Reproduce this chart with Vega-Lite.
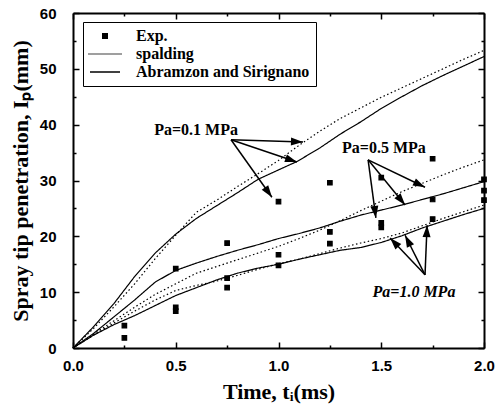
{
  "$schema": "https://vega.github.io/schema/vega-lite/v6.json",
  "width": 411,
  "height": 335,
  "autosize": {"type": "none"},
  "padding": {"left": 73, "top": 13, "right": 18, "bottom": 69},
  "background": "white",
  "config": {
    "view": {"stroke": null},
    "axis": {
      "domainColor": "black", "domainWidth": 2, "tickColor": "black", "tickWidth": 1.5,
      "labelColor": "black", "labelFont": "Liberation Sans", "labelFontWeight": "bold", "labelFontSize": 15,
      "titleColor": "black", "titleFont": "Liberation Serif", "titleFontWeight": "bold", "titleFontSize": 22,
      "grid": false, "labelFlush": false, "labelOverlap": false
    }
  },
  "datasets": {
    "curves": [
      {"p":"0.1","m":"A","t":0,"v":0},{"p":"0.1","m":"A","t":0.1,"v":3.8},{"p":"0.1","m":"A","t":0.2,"v":8.0},{"p":"0.1","m":"A","t":0.3,"v":12.8},{"p":"0.1","m":"A","t":0.4,"v":17.0},{"p":"0.1","m":"A","t":0.5,"v":20.4},{"p":"0.1","m":"A","t":0.6,"v":23.2},{"p":"0.1","m":"A","t":0.7,"v":25.5},{"p":"0.1","m":"A","t":0.8,"v":27.8},{"p":"0.1","m":"A","t":0.9,"v":30.2},{"p":"0.1","m":"A","t":1.0,"v":31.9},{"p":"0.1","m":"A","t":1.09,"v":33.4},{"p":"0.1","m":"A","t":1.2,"v":35.8},{"p":"0.1","m":"A","t":1.3,"v":38.3},{"p":"0.1","m":"A","t":1.4,"v":40.5},{"p":"0.1","m":"A","t":1.5,"v":42.9},{"p":"0.1","m":"A","t":1.6,"v":45.0},{"p":"0.1","m":"A","t":1.7,"v":47.0},{"p":"0.1","m":"A","t":1.8,"v":48.8},{"p":"0.1","m":"A","t":1.9,"v":50.5},{"p":"0.1","m":"A","t":2.0,"v":52.2},
      {"p":"0.1","m":"S","t":0,"v":0},{"p":"0.1","m":"S","t":0.1,"v":3.5},{"p":"0.1","m":"S","t":0.2,"v":7.4},{"p":"0.1","m":"S","t":0.3,"v":11.5},{"p":"0.1","m":"S","t":0.4,"v":16.0},{"p":"0.1","m":"S","t":0.5,"v":20.2},{"p":"0.1","m":"S","t":0.6,"v":24.3},{"p":"0.1","m":"S","t":0.7,"v":26.5},{"p":"0.1","m":"S","t":0.8,"v":28.9},{"p":"0.1","m":"S","t":0.9,"v":31.2},{"p":"0.1","m":"S","t":1.0,"v":33.6},{"p":"0.1","m":"S","t":1.1,"v":36.3},{"p":"0.1","m":"S","t":1.2,"v":38.8},{"p":"0.1","m":"S","t":1.3,"v":41.1},{"p":"0.1","m":"S","t":1.4,"v":43.0},{"p":"0.1","m":"S","t":1.5,"v":44.9},{"p":"0.1","m":"S","t":1.6,"v":46.6},{"p":"0.1","m":"S","t":1.7,"v":48.3},{"p":"0.1","m":"S","t":1.8,"v":50.0},{"p":"0.1","m":"S","t":1.9,"v":51.7},{"p":"0.1","m":"S","t":2.0,"v":53.3},
      {"p":"0.5","m":"A","t":0,"v":0},{"p":"0.5","m":"A","t":0.1,"v":2.6},{"p":"0.5","m":"A","t":0.2,"v":5.6},{"p":"0.5","m":"A","t":0.3,"v":8.6},{"p":"0.5","m":"A","t":0.4,"v":11.8},{"p":"0.5","m":"A","t":0.5,"v":13.9},{"p":"0.5","m":"A","t":0.6,"v":15.2},{"p":"0.5","m":"A","t":0.7,"v":16.4},{"p":"0.5","m":"A","t":0.8,"v":17.5},{"p":"0.5","m":"A","t":0.9,"v":18.5},{"p":"0.5","m":"A","t":1.0,"v":19.6},{"p":"0.5","m":"A","t":1.1,"v":20.5},{"p":"0.5","m":"A","t":1.2,"v":21.5},{"p":"0.5","m":"A","t":1.3,"v":22.7},{"p":"0.5","m":"A","t":1.4,"v":23.8},{"p":"0.5","m":"A","t":1.5,"v":24.7},{"p":"0.5","m":"A","t":1.6,"v":25.6},{"p":"0.5","m":"A","t":1.7,"v":26.6},{"p":"0.5","m":"A","t":1.8,"v":27.6},{"p":"0.5","m":"A","t":1.9,"v":28.7},{"p":"0.5","m":"A","t":2.0,"v":29.8},
      {"p":"0.5","m":"S","t":0,"v":0},{"p":"0.5","m":"S","t":0.1,"v":2.5},{"p":"0.5","m":"S","t":0.2,"v":4.9},{"p":"0.5","m":"S","t":0.3,"v":7.3},{"p":"0.5","m":"S","t":0.4,"v":9.6},{"p":"0.5","m":"S","t":0.5,"v":11.5},{"p":"0.5","m":"S","t":0.6,"v":13.4},{"p":"0.5","m":"S","t":0.7,"v":14.6},{"p":"0.5","m":"S","t":0.8,"v":15.8},{"p":"0.5","m":"S","t":0.9,"v":17.0},{"p":"0.5","m":"S","t":1.0,"v":18.2},{"p":"0.5","m":"S","t":1.1,"v":19.6},{"p":"0.5","m":"S","t":1.2,"v":21.1},{"p":"0.5","m":"S","t":1.3,"v":22.8},{"p":"0.5","m":"S","t":1.4,"v":24.6},{"p":"0.5","m":"S","t":1.5,"v":26.3},{"p":"0.5","m":"S","t":1.6,"v":28.0},{"p":"0.5","m":"S","t":1.7,"v":29.5},{"p":"0.5","m":"S","t":1.8,"v":31.0},{"p":"0.5","m":"S","t":1.9,"v":32.4},{"p":"0.5","m":"S","t":2.0,"v":33.7},
      {"p":"1.0","m":"A","t":0,"v":0},{"p":"1.0","m":"A","t":0.1,"v":2.3},{"p":"1.0","m":"A","t":0.2,"v":4.2},{"p":"1.0","m":"A","t":0.3,"v":5.8},{"p":"1.0","m":"A","t":0.4,"v":7.6},{"p":"1.0","m":"A","t":0.5,"v":9.4},{"p":"1.0","m":"A","t":0.6,"v":10.8},{"p":"1.0","m":"A","t":0.7,"v":12.2},{"p":"1.0","m":"A","t":0.8,"v":13.4},{"p":"1.0","m":"A","t":0.9,"v":14.3},{"p":"1.0","m":"A","t":1.0,"v":15.0},{"p":"1.0","m":"A","t":1.1,"v":15.9},{"p":"1.0","m":"A","t":1.2,"v":16.7},{"p":"1.0","m":"A","t":1.3,"v":17.5},{"p":"1.0","m":"A","t":1.4,"v":18.0},{"p":"1.0","m":"A","t":1.5,"v":18.9},{"p":"1.0","m":"A","t":1.6,"v":20.1},{"p":"1.0","m":"A","t":1.7,"v":21.5},{"p":"1.0","m":"A","t":1.8,"v":22.7},{"p":"1.0","m":"A","t":1.9,"v":23.9},{"p":"1.0","m":"A","t":2.0,"v":25.0},
      {"p":"1.0","m":"S","t":0,"v":0},{"p":"1.0","m":"S","t":0.1,"v":2.3},{"p":"1.0","m":"S","t":0.2,"v":4.5},{"p":"1.0","m":"S","t":0.3,"v":6.6},{"p":"1.0","m":"S","t":0.4,"v":8.6},{"p":"1.0","m":"S","t":0.5,"v":10.3},{"p":"1.0","m":"S","t":0.6,"v":11.2},{"p":"1.0","m":"S","t":0.7,"v":12.0},{"p":"1.0","m":"S","t":0.8,"v":13.0},{"p":"1.0","m":"S","t":0.9,"v":14.1},{"p":"1.0","m":"S","t":1.0,"v":15.1},{"p":"1.0","m":"S","t":1.1,"v":15.9},{"p":"1.0","m":"S","t":1.2,"v":16.9},{"p":"1.0","m":"S","t":1.3,"v":17.9},{"p":"1.0","m":"S","t":1.4,"v":18.8},{"p":"1.0","m":"S","t":1.5,"v":19.6},{"p":"1.0","m":"S","t":1.6,"v":20.6},{"p":"1.0","m":"S","t":1.7,"v":21.9},{"p":"1.0","m":"S","t":1.8,"v":23.2},{"p":"1.0","m":"S","t":1.9,"v":24.4},{"p":"1.0","m":"S","t":2.0,"v":25.6}
    ],
    "exp": [
      {"t":0.25,"v":4.0},{"t":0.25,"v":1.8},
      {"t":0.5,"v":14.2},{"t":0.5,"v":7.3},{"t":0.5,"v":6.6},
      {"t":0.75,"v":18.8},{"t":0.75,"v":12.5},{"t":0.75,"v":10.8},
      {"t":1.0,"v":26.2},{"t":1.0,"v":16.7},{"t":1.0,"v":14.8},
      {"t":1.25,"v":29.6},{"t":1.25,"v":20.8},{"t":1.25,"v":18.7},
      {"t":1.5,"v":30.5},{"t":1.5,"v":22.4},{"t":1.5,"v":21.6},
      {"t":1.75,"v":33.9},{"t":1.75,"v":26.6},{"t":1.75,"v":23.1},
      {"t":2.0,"v":30.2},{"t":2.0,"v":28.2},{"t":2.0,"v":26.5}
    ],
    "arrows": [
      {"t0":0.769,"v0":37.3,"t1":1.119,"v1":36.9},
      {"t0":0.769,"v0":37.3,"t1":1.090,"v1":33.3},
      {"t0":0.769,"v0":37.3,"t1":0.968,"v1":27.0},
      {"t0":1.436,"v0":33.7,"t1":1.713,"v1":28.8},
      {"t0":1.436,"v0":33.7,"t1":1.616,"v1":25.6},
      {"t0":1.436,"v0":33.7,"t1":1.474,"v1":23.3},
      {"t0":1.713,"v0":13.1,"t1":1.543,"v1":19.7},
      {"t0":1.713,"v0":13.1,"t1":1.616,"v1":20.2},
      {"t0":1.713,"v0":13.1,"t1":1.723,"v1":22.0}
    ],
    "notes": [
      {"label":"Pa=0.1 MPa","t":0.599,"v":39.0},
      {"label":"Pa=0.5 MPa","t":1.513,"v":35.8},
      {"label":"Pa=1.0 MPa","t":1.659,"v":10.0}
    ]
  },
  "layer": [
    {
      "data": {"name": "curves"},
      "mark": {"type": "line", "color": "black", "strokeWidth": 1.2},
      "encoding": {
        "x": {"field": "t", "type": "quantitative", "scale": {"domain": [0, 2], "nice": false},
          "axis": {"orient": "bottom", "title": "Time, tᵢ(ms)", "values": [0,0.25,0.5,0.75,1,1.25,1.5,1.75,2],
            "labelExpr": "datum.value % 0.5 === 0 ? format(datum.value, '.1f') : ''",
            "tickSize": {"condition": {"test": "datum.value % 0.5 === 0", "value": -6}, "value": -3},
            "labelPadding": 16, "titlePadding": 5}},
        "y": {"field": "v", "type": "quantitative", "scale": {"domain": [0, 60], "nice": false},
          "axis": {"orient": "left", "title": "Spray tip penetration, Iₚ(mm)", "values": [0,5,10,15,20,25,30,35,40,45,50,55,60],
            "labelExpr": "datum.value % 10 === 0 ? format(datum.value, 'd') : ''",
            "tickSize": {"condition": {"test": "datum.value % 10 === 0", "value": -6}, "value": -3},
            "labelPadding": 23, "titlePadding": 7}},
        "detail": {"field": "p"},
        "strokeDash": {"field": "m", "type": "nominal", "scale": {"domain": ["S", "A"], "range": [[1.5, 2.5], [1, 0]]}, "legend": null}
      }
    },
    {
      "data": {"name": "exp"},
      "mark": {"type": "point", "filled": true, "color": "black", "stroke": "black", "strokeWidth": 1.2, "size": 100, "opacity": 1},
      "encoding": {
        "x": {"field": "t", "type": "quantitative", "scale": {"domain": [0, 2], "nice": false},
          "axis": {"orient": "top", "labels": false, "title": null, "values": [0,0.25,0.5,0.75,1,1.25,1.5,1.75,2],
            "tickSize": {"condition": {"test": "datum.value % 0.5 === 0", "value": -6}, "value": -3}}},
        "y": {"field": "v", "type": "quantitative", "scale": {"domain": [0, 60], "nice": false},
          "axis": {"orient": "right", "labels": false, "title": null, "values": [0,5,10,15,20,25,30,35,40,45,50,55,60],
            "tickSize": {"condition": {"test": "datum.value % 10 === 0", "value": -6}, "value": -3}}},
        "shape": {"datum": "Exp.",
          "scale": {"domain": ["Exp.", "spalding", "Abramzon and Sirignano"],
            "range": ["M-0.45,-0.45H0.45V0.45H-0.45Z",
              "M-3.3,0h0.2M-2.9,0h0.2M-2.5,0h0.2M-2.1,0h0.2M-1.7,0h0.2M-1.3,0h0.2M-0.9,0h0.2M-0.5,0h0.2M-0.1,0h0.2M0.3,0h0.2M0.7,0h0.2M1.1,0h0.2M1.5,0h0.2M1.9,0h0.2M2.3,0h0.2M2.7,0h0.2M3.1,0h0.2",
              "M-3.0,0L3.0,0"]},
          "legend": {"title": null, "orient": "none", "legendX": 10, "legendY": 9, "padding": 6,
            "strokeColor": "black", "fillColor": "white", "symbolSize": 100, "symbolOffset": 8, "labelOffset": 23,
            "rowPadding": 2, "labelLimit": 400, "labelFont": "Liberation Serif", "labelFontWeight": "bold", "labelFontSize": 16, "labelColor": "black",
            "labelExpr": "datum.label === 'Abramzon and Sirignano' ? datum.label + '\u00a0\u00a0\u00a0\u00a0\u00a0' : datum.label",
            "encode": {
              "legend": {"update": {"strokeWidth": {"value": 1.5}}},
              "symbols": {"update": {
                "stroke": {"value": "black"}, "strokeWidth": {"value": 1.2},
                "fill": {"value": "black"}}}}}}
      }
    },
    {
      "data": {"name": "arrows"},
      "mark": {"type": "rule", "color": "black", "strokeWidth": 1.5},
      "encoding": {
        "x": {"field": "t0", "type": "quantitative", "scale": {"domain": [0, 2], "nice": false}, "axis": null},
        "y": {"field": "v0", "type": "quantitative", "scale": {"domain": [0, 60], "nice": false}, "axis": null},
        "x2": {"field": "t1"},
        "y2": {"field": "v1"}
      }
    },
    {
      "data": {"name": "arrows"},
      "transform": [{"calculate": "atan2((datum.t1 - datum.t0) * 205.5, (datum.v1 - datum.v0) * 5.5833) * 180 / PI", "as": "ang"}],
      "mark": {"type": "point", "filled": true, "color": "black", "opacity": 1, "size": 100, "shape": "M0,0L-0.8,2.4L0.8,2.4Z"},
      "encoding": {
        "x": {"field": "t1", "type": "quantitative", "scale": {"domain": [0, 2], "nice": false}, "axis": null},
        "y": {"field": "v1", "type": "quantitative", "scale": {"domain": [0, 60], "nice": false}, "axis": null},
        "angle": {"field": "ang", "type": "quantitative", "scale": null}
      }
    },
    {
      "data": {"name": "notes"},
      "transform": [{"filter": "datum.label !== 'Pa=1.0 MPa'"}],
      "mark": {"type": "text", "font": "Liberation Serif", "fontWeight": "bold", "fontSize": 16, "color": "black"},
      "encoding": {
        "x": {"field": "t", "type": "quantitative", "scale": {"domain": [0, 2], "nice": false}, "axis": null},
        "y": {"field": "v", "type": "quantitative", "scale": {"domain": [0, 60], "nice": false}, "axis": null},
        "text": {"field": "label"}
      }
    },
    {
      "data": {"name": "notes"},
      "transform": [{"filter": "datum.label === 'Pa=1.0 MPa'"}],
      "mark": {"type": "text", "font": "Liberation Serif", "fontWeight": "bold", "fontStyle": "italic", "fontSize": 16, "color": "black"},
      "encoding": {
        "x": {"field": "t", "type": "quantitative", "scale": {"domain": [0, 2], "nice": false}, "axis": null},
        "y": {"field": "v", "type": "quantitative", "scale": {"domain": [0, 60], "nice": false}, "axis": null},
        "text": {"field": "label"}
      }
    }
  ],
  "resolve": {"axis": {"x": "independent", "y": "independent"}}
}
